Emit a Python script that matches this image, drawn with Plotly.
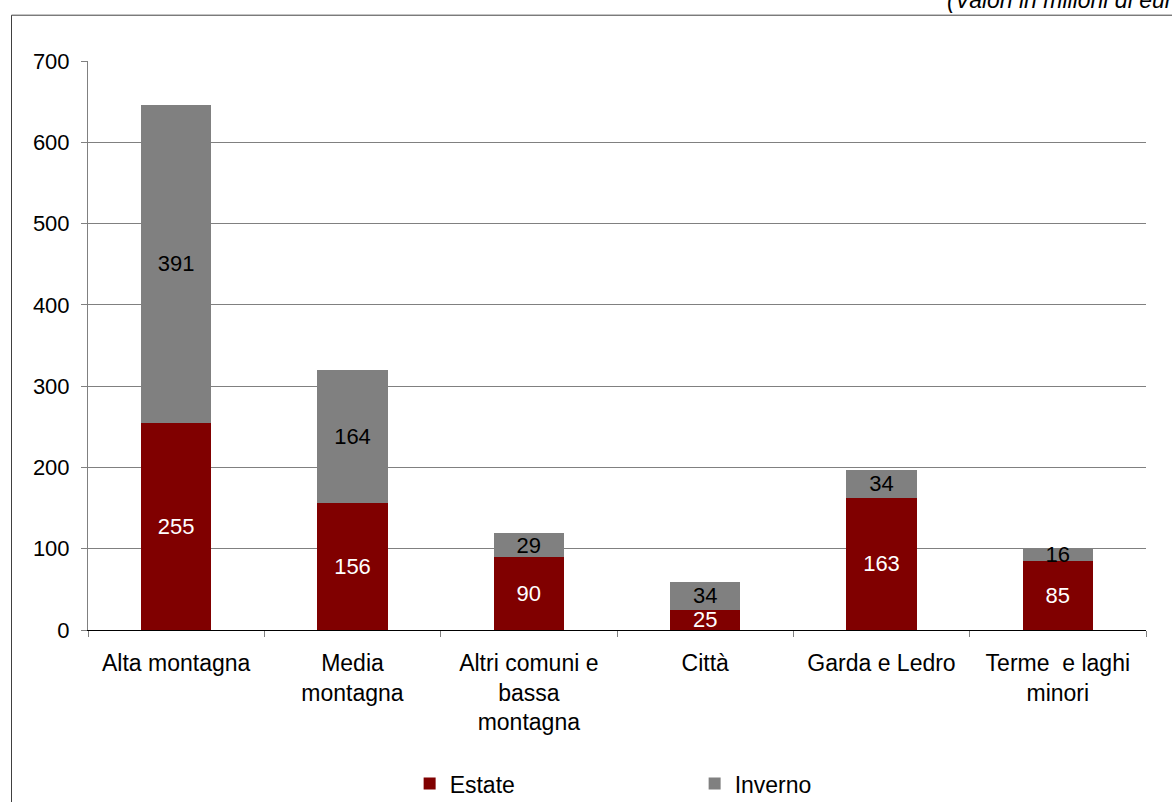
import plotly.graph_objects as go

# Spesa turistica per ambito e stagione (milioni di euro)
categories = [
    'Alta montagna',
    'Media<br>montagna',
    'Altri comuni e<br>bassa<br>montagna',
    'Città',
    'Garda e Ledro',
    'Terme  e laghi<br>minori',
]
estate = [255, 156, 90, 25, 163, 85]
inverno = [391, 164, 29, 34, 34, 16]
y_ticks = [0, 100, 200, 300, 400, 500, 600, 700]

FONT = 'Liberation Sans, Arial, sans-serif'

fig = go.Figure()
fig.add_trace(go.Bar(
    x=categories, y=estate, name='Estate',
    marker=dict(color='#800000', line=dict(width=0)),
    text=estate, textposition='inside', insidetextanchor='middle', textangle=0,
    textfont=dict(color='white', size=22, family=FONT),
))
fig.add_trace(go.Bar(
    x=categories, y=inverno, name='Inverno',
    marker=dict(color='#808080', line=dict(width=0)),
    text=inverno, textposition='inside', insidetextanchor='middle', textangle=0,
    textfont=dict(color='black', size=22, family=FONT),
))

fig.update_layout(
    barmode='stack',
    bargap=0.6,
    width=1172, height=802,
    margin=dict(l=88, r=26, t=61, b=172, autoexpand=False),
    paper_bgcolor='white', plot_bgcolor='white',
    font=dict(family=FONT, size=22, color='black'),
    uniformtext=dict(minsize=22, mode='show'),
    showlegend=True,
    legend=dict(
        orientation='h', x=0.304, xanchor='left', y=-0.27, yanchor='middle',
        entrywidth=240, entrywidthmode='pixels',
        font=dict(size=23, family=FONT), traceorder='normal',
    ),
    xaxis=dict(
        showline=True, linecolor='black', linewidth=1,
        ticks='outside', tickson='boundaries', ticklen=6, tickcolor='#808080',
        tickfont=dict(size=23), showgrid=False, ticklabelstandoff=12,
    ),
    yaxis=dict(
        range=[0, 700], tickvals=y_ticks,
        showline=True, linecolor='#808080', linewidth=1,
        ticks='outside', ticklen=6, tickcolor='#808080',
        showgrid=True, gridcolor='#808080', gridwidth=1,
        zeroline=False, tickfont=dict(size=22), ticklabelstandoff=7,
    ),
    shapes=[dict(
        type='rect', xref='paper', yref='paper',
        x0=-0.0723, x1=1.1, y0=-0.4, y1=1.0805,
        line=dict(color='#404040', width=1), fillcolor='rgba(0,0,0,0)', layer='below',
    )],
    annotations=[dict(
        text='<i>(Valori in milioni di euro)</i>', xref='paper', yref='paper',
        x=(945 - 88) / 1058, xanchor='left', y=1.0817, yanchor='bottom',
        showarrow=False, font=dict(size=23, family=FONT),
    )],
)

fig.write_html('out.html', config={'displayModeBar': False},
               post_script="document.body.style.margin='0';")
